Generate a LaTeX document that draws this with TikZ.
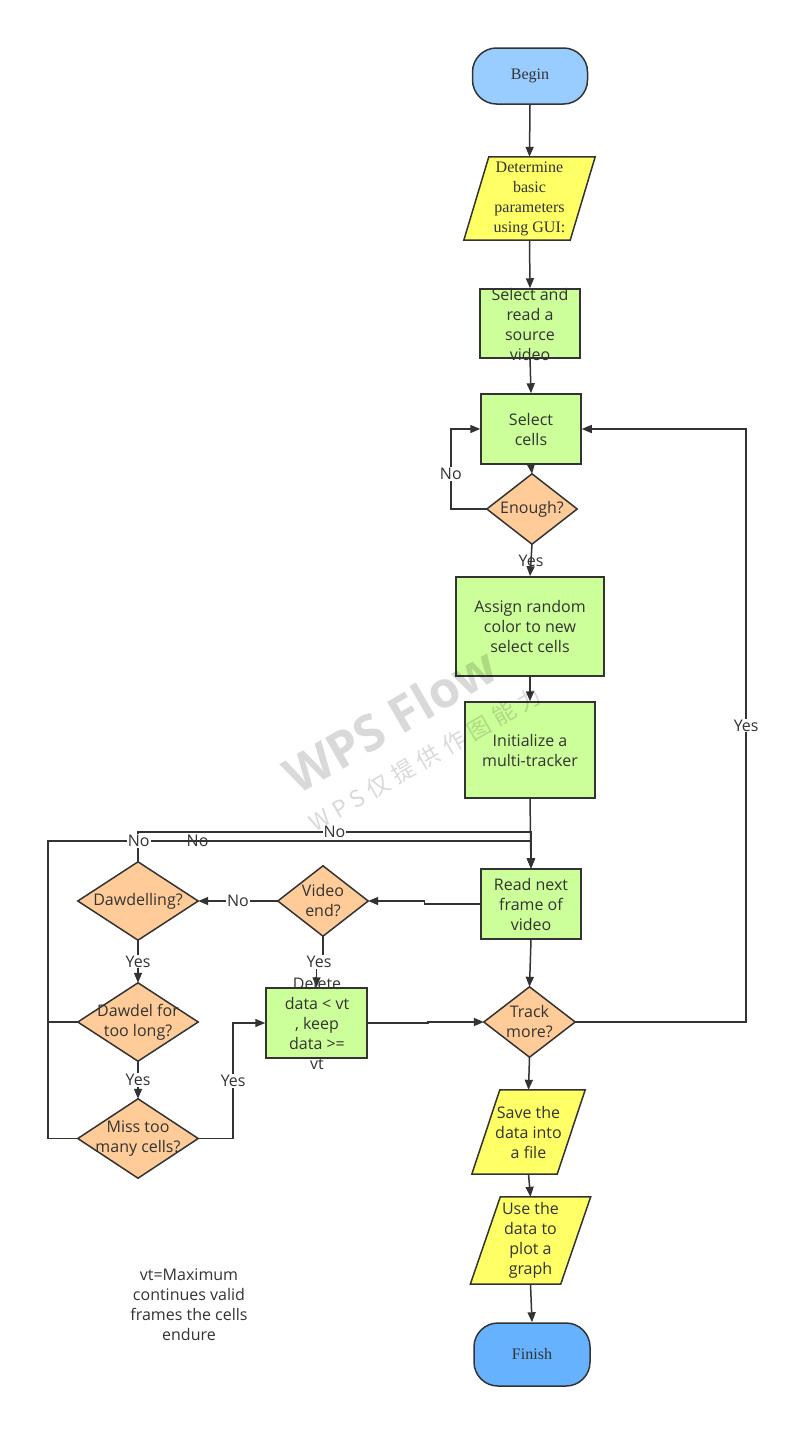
\documentclass[tikz,border=0pt]{standalone}
\usepackage{fontspec}
\setmainfont{Liberation Serif}
\setsansfont{Open Sans}
\newfontfamily\cjkfont[LetterSpace=26]{Noto Sans CJK SC}
\usetikzlibrary{arrows.meta}
\pgfdeclarelayer{background}
\pgfsetlayers{background,main}
\definecolor{linec}{HTML}{333333}
\definecolor{beginblue}{HTML}{99CCFF}
\definecolor{endblue}{HTML}{66B2FF}
\definecolor{ioyellow}{HTML}{FFFF66}
\definecolor{procgreen}{HTML}{CCFF99}
\definecolor{decorange}{HTML}{FFCC99}
% diamond outline through the four side anchors of a plain node
\newcommand{\flowdiamond}[1]{%
  \begin{pgfonlayer}{background}
    \path[flow,fill=decorange] (#1.north) -- (#1.east) -- (#1.south) -- (#1.west) -- cycle;
  \end{pgfonlayer}}
% slanted input/output box: bottom shifted left, top shifted right
\newcommand{\flowslant}[2]{%
  \begin{pgfonlayer}{background}
    \path[flow,fill=ioyellow] ([xshift=-#2pt]#1.south west) -- ([xshift=-#2pt]#1.south east)
      -- ([xshift=#2pt]#1.north east) -- ([xshift=#2pt]#1.north west) -- cycle;
  \end{pgfonlayer}}
\begin{document}
\begin{tikzpicture}[x=1pt,y=-1pt,
  flow/.style={draw=linec, line width=1.5pt},
  conn/.style={draw=linec, line width=1.5pt, -{Triangle[length=10pt,width=8pt]}},
  sz/.style={font=\sffamily\fontsize{16}{20}\selectfont, align=center, text=linec},
  serif/.style={font=\rmfamily\fontsize{16}{20}\selectfont, align=center, text=linec},
  procbox/.style={flow, fill=procgreen, rectangle, inner sep=0pt, sz},
  term/.style={flow, rectangle, rounded corners=24pt, inner sep=0pt, serif},
  holder/.style={rectangle, inner sep=0pt, sz},
  lbl/.style={sz, fill=white, inner sep=1pt},
  lblclear/.style={sz, inner sep=1pt},
  wmtext/.style={text=black, text opacity=0.15}
]
\useasboundingbox (0,0) rectangle (808,1448);

% ---- main column ----
\node[term, fill=beginblue, minimum width=115pt, minimum height=56pt] (begin) at (530,76) {Begin};

\node[holder, serif, minimum width=106pt, minimum height=83pt] (det) at (529.5,198.5)
  {Determine\\basic\\parameters\\using GUI:};
\flowslant{det}{12.5}

\node[procbox, minimum width=100pt, minimum height=69pt] (selread) at (530,323.5) {};
\node[holder] (selreadtxt) at (530,324) {Select and\\read a\\source\\video};

\node[procbox, minimum width=100pt, minimum height=70pt] (selcells) at (531,429) {Select\\cells};

\node[holder, minimum width=90pt, minimum height=70pt] (enough) at (532,509) {Enough?};
\flowdiamond{enough}

\node[procbox, minimum width=148pt, minimum height=99pt] (assign) at (530,626.5)
  {Assign random\\color to new\\select cells};

\node[procbox, minimum width=130pt, minimum height=96pt] (init) at (530,750)
  {Initialize a\\multi-tracker};

\node[procbox, minimum width=100pt, minimum height=70pt] (readnext) at (531,904)
  {Read next\\frame of\\video};

\node[holder, minimum width=91pt, minimum height=70pt] (track) at (529.5,1022) {Track\\more?};
\flowdiamond{track}

\node[holder, minimum width=85pt, minimum height=84pt] (save) at (528.5,1132)
  {Save the\\data into\\a file};
\flowslant{save}{14}

\node[holder, minimum width=90pt, minimum height=87pt] (use) at (530.5,1240.5)
  {Use the\\data to\\plot a\\graph};
\flowslant{use}{15}

\node[term, fill=endblue, minimum width=116pt, minimum height=63pt] (finish) at (532,1354.5) {Finish};

% ---- left branch ----
\node[holder, minimum width=90pt, minimum height=70pt] (vend) at (323,901) {Video\\end?};
\flowdiamond{vend}

\node[holder, minimum width=120pt, minimum height=78pt] (dawd) at (138,901) {Dawdelling?};
\flowdiamond{dawd}

\node[holder, minimum width=120pt, minimum height=78pt] (toolong) at (138,1022) {Dawdel for\\too long?};
\flowdiamond{toolong}

\node[holder, minimum width=120pt, minimum height=79pt] (miss) at (138,1138.5) {Miss too\\many cells?};
\flowdiamond{miss}

\node[procbox, minimum width=101pt, minimum height=70pt] (del) at (316.5,1023) {};
\node[holder] (deltxt) at (317,1023) {Delete\\data < vt\\, keep\\data >=\\vt};

\node[sz] (note) at (189,1305) {vt=Maximum\\continues valid\\frames the cells\\endure};

% ---- connectors ----
\draw[conn] (begin.south) -- (det.north);
\draw[conn] (det.south) -- (selread.north);
\draw[conn] (selread.south) -- (selcells.north);
\draw[conn] (selcells.south) -- (enough.north);
\draw[conn] (enough.west) -- ++(-36,0) |- node[lbl, pos=0.22] {No} (selcells.west);
\draw[conn] (enough.south) -- (assign.north);
\node[lblclear] (yesenough) at (531,561) {Yes};
\draw[conn] (assign.south) -- (init.north);
\draw[conn] (init.south) -- (readnext.north);
\draw[conn] (readnext.west) -- ++(-56,0) |- (vend.east);
\draw[conn] (vend.west) -- node[lbl] {No} (dawd.east);
\draw[conn] (vend.south) -- ++(0,24) -| (del.north);
\node[lbl] (yesvend) at (319,962) {Yes};
\draw[conn] (dawd.south) -- node[lbl] {Yes} (toolong.north);
\draw[conn] (toolong.south) -- node[lbl] {Yes} (miss.north);
\draw[conn] (miss.east) -- ++(35,0) |- node[lbl, pos=0.25] {Yes} (del.west);
\draw[conn] (del.east) -- ++(60,0) |- (track.west);
\draw[conn] (readnext.south) -- (track.north);
\draw[conn] (track.east) -- ++(171,0) |- node[lbl, pos=0.25] {Yes} (selcells.east);
\draw[conn] (track.south) -- (save.north);
\draw[conn] (save.south) -- (use.north);
\draw[conn] (use.south) -- (finish.north);

% "No" returns to the next frame
\draw[conn] (dawd.north) -- ++(0,-30) -| node[lbl, pos=0.25] {No} (readnext.north);
\draw[conn] (toolong.west) -- ++(-30,0) -- ++(0,-181) -| node[lbl, pos=0.155] {No} (readnext.north);
\draw[conn] (miss.west) -- ++(-30,0) -- ++(0,-297.5) -| node[lbl, pos=0.094] {No} (readnext.north);

% ---- watermark ----
\node[wmtext, rotate=30, font=\sffamily\bfseries\fontsize{50}{50}\selectfont] (wmark) at (390,720) {WPS Flow};
\node[wmtext, rotate=30, font=\fontsize{23}{23}\selectfont] (wmarksub) at (425,759) {\cjkfont WPS仅提供作图能力};
\end{tikzpicture}
\end{document}
